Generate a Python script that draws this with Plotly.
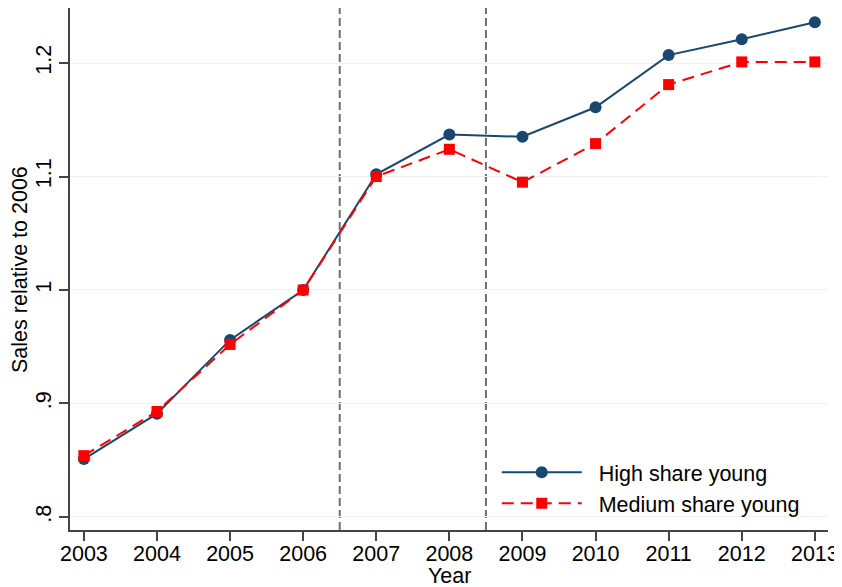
import plotly.graph_objects as go

years = [2003, 2004, 2005, 2006, 2007, 2008, 2009, 2010, 2011, 2012, 2013]
high_young = [0.851, 0.891, 0.956, 1.000, 1.102, 1.137, 1.135, 1.161, 1.207, 1.221, 1.236]
medium_young = [0.854, 0.893, 0.952, 1.000, 1.100, 1.124, 1.095, 1.129, 1.181, 1.201, 1.201]
event_lines = [2006.5, 2008.5]
y_ticks = [0.8, 0.9, 1.0, 1.1, 1.2]
y_labels = [".8", ".9", "1", "1.1", "1.2"]

NAVY = "#1a476f"
RED = "#ff0000"
AXIS = "#444444"
FONT = "Liberation Sans, Arial, sans-serif"
PAD = "\u00a0\u00a0"  # a little extra room between legend key and label

fig = go.Figure()
fig.add_trace(go.Scatter(
    x=years, y=high_young, mode="lines+markers", name=PAD + "High share young",
    line=dict(color=NAVY, width=2),
    marker=dict(symbol="circle", size=12, color=NAVY),
))
fig.add_trace(go.Scatter(
    x=years, y=medium_young, mode="lines+markers", name=PAD + "Medium share young",
    line=dict(color=RED, width=2, dash="12px,7px"),
    marker=dict(symbol="square", size=11, color=RED),
))

# dashed reference lines between periods
for xv in event_lines:
    fig.add_shape(type="line", x0=xv, x1=xv, y0=0, y1=1, xref="x", yref="paper",
                  line=dict(color="#6e6e6e", width=2, dash="8px,4px"), layer="below")

# axis titles as annotations so their distance from the axes is exact
fig.add_annotation(text="Year", x=0.5, y=-0.088, xref="paper", yref="paper",
                   xanchor="center", yanchor="middle", showarrow=False,
                   font=dict(size=21.5))
fig.add_annotation(text="Sales relative to 2006", x=-0.066, y=0.5, xref="paper",
                   yref="paper", xanchor="center", yanchor="middle", textangle=-90,
                   showarrow=False, font=dict(size=21.5))

# the page body adds an 8px margin, so the figure is 8px smaller than the window
fig.update_layout(
    width=834, height=579,
    margin=dict(l=62, r=14, t=0, b=57),
    paper_bgcolor="white", plot_bgcolor="white",
    font=dict(family=FONT, size=21.5, color="black"),
    showlegend=True,
    legend=dict(x=0.563, y=0.15, xanchor="left", yanchor="top",
                bgcolor="rgba(0,0,0,0)", font=dict(size=21.5),
                itemwidth=80, tracegroupgap=0),
)
fig.update_xaxes(
    range=[2002.81, 2013.18], tickvals=years, ticks="outside", ticklen=9,
    tickwidth=1.5, tickcolor=AXIS, showline=True, linecolor=AXIS,
    linewidth=1.5, showgrid=False, zeroline=False, automargin=False,
    tickfont=dict(size=21.5), ticklabelstandoff=-6,
)
fig.update_yaxes(
    range=[0.7885, 1.2485], tickvals=y_ticks, ticktext=y_labels, tickangle=-90,
    ticks="outside", ticklen=9, tickwidth=1.5, tickcolor=AXIS,
    showline=True, linecolor=AXIS, linewidth=1.5, automargin=False,
    showgrid=True, gridcolor="#eaf2f3", gridwidth=1.2, zeroline=False,
    tickfont=dict(size=21.5),
)

fig.write_html("out.html")
